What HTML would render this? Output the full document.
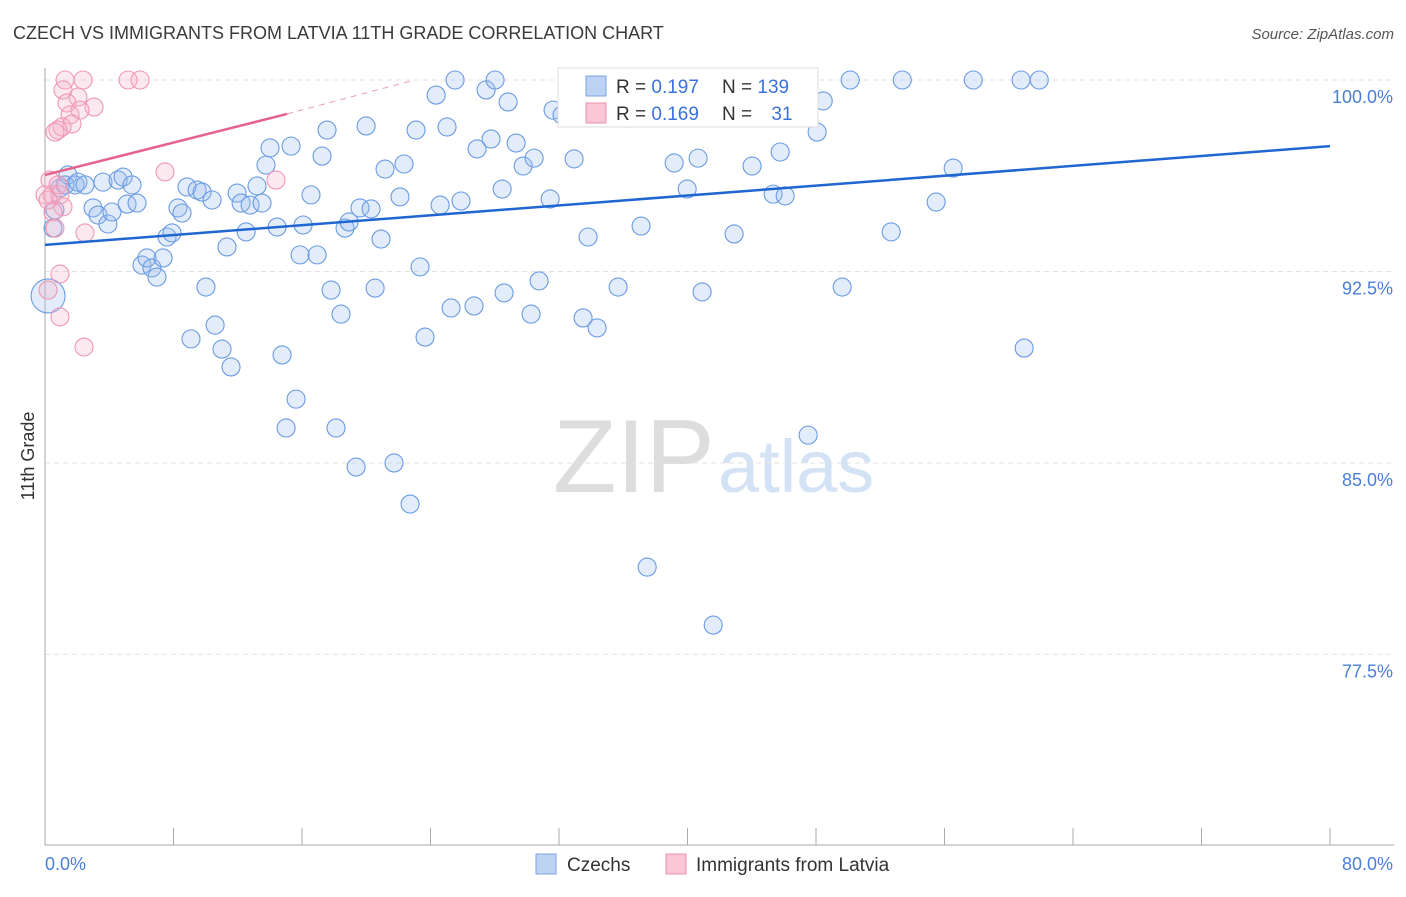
<!DOCTYPE html>
<html><head><meta charset="utf-8">
<style>
body{margin:0;background:#fff;font-family:"Liberation Sans",sans-serif;}
svg text{font-family:"Liberation Sans",sans-serif;}
</style></head>
<body>
<svg id="chart" width="1406" height="892" viewBox="0 0 1406 892" xmlns="http://www.w3.org/2000/svg">
<text x="13" y="39" font-size="18" fill="#3a3a3a">CZECH VS IMMIGRANTS FROM LATVIA 11TH GRADE CORRELATION CHART</text>
<text x="1394" y="39" font-size="15" fill="#555" text-anchor="end" font-style="italic">Source: ZipAtlas.com</text>
<g>
<text x="553" y="492" font-size="104" fill="#ddd" font-family="Liberation Serif,serif">ZIP</text>
<text x="718" y="492" font-size="74" fill="#d3e2f5">atlas</text>
</g>
<g id="grid"></g>
<g id="axes"></g>
<g id="pts"></g>
<g id="lines"></g>
<g>
<rect x="558" y="68" width="260" height="59" fill="#fff" stroke="#ddd"/>
<rect x="586" y="76" width="20" height="20" fill="#bcd3f3" stroke="#7aa3e0"/>
<rect x="586" y="103" width="20" height="20" fill="#f9c6d6" stroke="#ec8fae"/>
<text x="616" y="93" font-size="19" fill="#333">R = <tspan fill="#3b72d9">0.197</tspan></text>
<text x="722" y="93" font-size="19" fill="#333">N = <tspan fill="#3b72d9">139</tspan></text>
<text x="616" y="120" font-size="19" fill="#333">R = <tspan fill="#3b72d9">0.169</tspan></text>
<text x="722" y="120" font-size="19" fill="#333">N = <tspan fill="#3b72d9" dx="14">31</tspan></text>
</g>
<g>
<rect x="536" y="854" width="20" height="20" fill="#bcd3f3" stroke="#7aa3e0"/>
<text x="567" y="871" font-size="19" fill="#333">Czechs</text>
<rect x="666" y="854" width="20" height="20" fill="#f9c6d6" stroke="#ec8fae"/>
<text x="696" y="871" font-size="19" fill="#333">Immigrants from Latvia</text>
</g>
<text transform="translate(34,456) rotate(-90)" font-size="18" fill="#333" text-anchor="middle">11th Grade</text>
</svg>
<script>
const yTicks=[100,92.5,85,77.5];
const yTickLabels=["100.0%","92.5%","85.0%","77.5%"];
const xTickLabels=["0.0%","80.0%"];
const czX=[0.50,0.62,0.93,1.43,1.25,1.87,2.05,2.49,2.99,3.30,3.61,3.92,4.17,4.55,4.86,5.11,5.42,5.73,6.04,6.35,6.66,6.97,7.35,7.60,7.91,8.28,8.53,8.84,9.09,9.47,9.78,10.02,10.40,10.59,11.02,11.33,11.58,11.96,12.21,12.52,12.77,13.20,13.51,13.76,14.01,14.45,14.76,15.01,15.32,15.63,15.88,16.07,16.56,16.94,17.25,17.56,17.81,18.12,18.43,18.68,18.93,19.37,19.61,19.99,20.30,20.55,20.92,21.17,21.73,22.10,22.35,22.73,23.10,23.35,23.66,24.35,24.60,25.03,25.28,25.53,25.90,26.71,26.90,27.46,27.77,28.02,28.46,28.58,28.83,29.33,29.77,30.26,30.45,30.76,31.45,31.63,32.19,32.94,33.31,33.50,33.81,34.37,35.68,35.93,36.11,37.11,37.49,39.17,39.98,40.66,40.91,41.60,42.03,42.90,44.02,45.33,45.77,46.08,46.89,47.51,48.07,48.45,49.63,50.13,52.68,53.37,55.48,56.54,57.79,60.77,60.96,61.90];
const czY=[94.20,94.91,95.77,96.28,95.89,95.89,96.0,95.89,94.99,94.71,96.0,94.36,94.83,96.08,96.20,95.14,95.89,95.18,92.75,93.03,92.64,92.28,93.03,93.85,94.01,94.99,94.79,95.81,89.86,95.69,95.61,91.89,95.30,90.40,89.46,93.46,88.76,95.57,95.18,94.05,95.10,95.85,95.18,96.67,97.34,94.24,89.23,86.37,97.41,87.50,93.15,94.32,95.50,93.15,97.02,98.04,91.77,86.37,90.83,94.20,94.44,84.84,94.99,98.20,94.95,91.85,93.77,96.51,85.0,95.42,96.71,83.39,98.04,92.68,89.93,99.41,95.10,98.16,91.07,100,95.26,91.15,97.30,99.61,97.69,100,95.73,91.66,99.14,97.53,96.63,90.83,96.94,92.13,95.34,98.82,98.63,96.91,99.02,90.68,93.85,90.29,91.89,100,98.51,94.28,80.92,96.75,95.73,96.94,91.70,78.65,100,93.97,96.63,95.53,97.18,95.46,100,86.09,97.96,99.18,91.89,100,94.05,100,95.22,96.55,100,100,89.50,100];
const lvX=[1.25,2.37,5.17,5.92,1.12,2.05,1.37,3.05,2.18,1.56,1.68,1.06,0.81,0.62,7.47,14.38,0.31,0.81,0.44,0,0.93,0.19,1.12,0.50,2.49,0.62,0.93,0.93,2.43,0.19];
const lvY=[100,100,100,100,99.61,99.33,99.10,98.94,98.82,98.63,98.28,98.16,98.04,97.96,96.40,96.08,96.08,95.89,95.50,95.50,95.50,95.30,95.03,94.83,94.01,94.20,92.40,90.72,89.54,91.77];
const bigX=[0.19], bigY=[91.54];
const czTrend=[[0,93.54],[80,97.41]];
const lvTrend=[[0,96.28],[15.07,98.67]];
const lvTrendDash=[[15.07,98.67],[23,100]];
const X=v=>45+v*(1285/80), Y=v=>80+(100-v)*25.53;
const NS="http://www.w3.org/2000/svg";
function mk(p,t,a){const e=document.createElementNS(NS,t);for(const k in a)e.setAttribute(k,a[k]);p.appendChild(e);return e;}
const grid=document.getElementById('grid'),axes=document.getElementById('axes'),pts=document.getElementById('pts'),lines=document.getElementById('lines');
yTicks.forEach((t,i)=>{
 const l=mk(grid,'line',{x1:45,x2:1394,y1:Y(t),y2:Y(t),stroke:'#e2e2e2','stroke-dasharray':'5,4'});
 
 
 const tx=mk(axes,'text',{x:1393,y:Y(t)+23,'font-size':18,fill:'#4a7fd6','text-anchor':'end'});
 tx.textContent=yTickLabels[i];
 
 
});
const ax=mk(axes,'line',{x1:45,x2:45,y1:68,y2:845,stroke:'#aaa'});


const bx=mk(axes,'line',{x1:45,x2:1394,y1:845,y2:845,stroke:'#aaa'});


for(let i=0;i<=10;i++){
 const tk=mk(axes,'line',{x1:X(i*8),x2:X(i*8),y1:828,y2:845,stroke:'#aaa'});
 
 
}
[[0,'start',45],[80,'end',1393]].forEach((d,i)=>{
 const t=mk(axes,'text',{x:d[2],y:870,'font-size':18,fill:'#4a7fd6','text-anchor':d[1]});
 t.textContent=xTickLabels[i];
 
 
});
czX.forEach((x,i)=>{
 const c=mk(pts,'circle',{cx:X(x),cy:Y(czY[i]),r:9,fill:'rgba(150,188,238,0.28)',stroke:'#6a9be2','stroke-width':1.1});
 
 
});
bigX.forEach((x,i)=>{
 const c=mk(pts,'circle',{cx:X(x),cy:Y(bigY[i]),r:17,fill:'rgba(150,188,238,0.28)',stroke:'#6a9be2','stroke-width':1.1});
 
 
});
lvX.forEach((x,i)=>{
 const c=mk(pts,'circle',{cx:X(x),cy:Y(lvY[i]),r:9,fill:'rgba(245,175,200,0.28)',stroke:'#ef97b4','stroke-width':1.1});
 
 
});
const l1=mk(lines,'line',{x1:X(czTrend[0][0]),y1:Y(czTrend[0][1]),x2:X(czTrend[1][0]),y2:Y(czTrend[1][1]),stroke:'#1f66d1','stroke-width':2.5});


const l2=mk(lines,'line',{x1:X(lvTrend[0][0]),y1:Y(lvTrend[0][1]),x2:X(lvTrend[1][0]),y2:Y(lvTrend[1][1]),stroke:'#e4628c','stroke-width':2.5});


const l3=mk(lines,'line',{x1:X(lvTrendDash[0][0]),y1:Y(lvTrendDash[0][1]),x2:X(lvTrendDash[1][0]),y2:Y(lvTrendDash[1][1]),stroke:'#e9a0b8','stroke-width':1,'stroke-dasharray':'6,5'});


</script>
</body></html>
